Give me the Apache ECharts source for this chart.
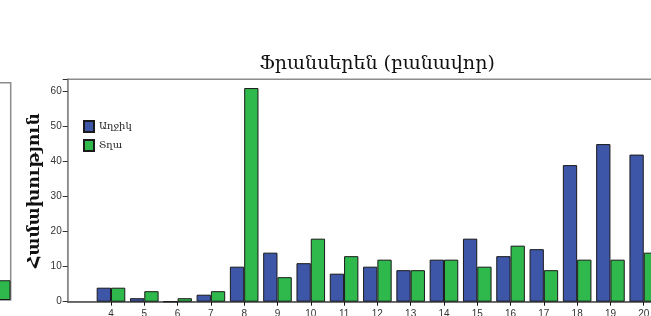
<!DOCTYPE html>
<html>
<head>
<meta charset="utf-8">
<script src="https://cdn.jsdelivr.net/npm/echarts@6/dist/echarts.min.js"></script>
<style>
  html, body { margin: 0; padding: 0; background: #fff; }
  #chart { width: 651px; height: 316px; }
</style>
</head>
<body>
<div id="chart"></div>
<script>
  var categories = [4, 5, 6, 7, 8, 9, 10, 11, 12, 13, 14, 15, 16, 17, 18, 19, 20];
  var girls = [4, 1, 0, 2, 10, 14, 11, 8, 10, 9, 12, 18, 13, 15, 39, 45, 42]; // Աղջիկ
  var boys = [4, 3, 1, 3, 61, 7, 18, 13, 12, 9, 12, 10, 16, 9, 12, 12, 14];   // Տղա
  var yTicks = [0, 10, 20, 30, 40, 50, 60];
  var leftValues = [6]; // neighbouring chart, only its last bar is visible

  var chart = echarts.init(document.getElementById('chart'));

  var girlsData = categories.map(function (c, i) { return [c, girls[i]]; });
  var boysData = categories.map(function (c, i) { return [c, boys[i]]; });

  var option = {
    backgroundColor: '#fff',
    animation: false,
    title: {
      text: 'Ֆրանսերեն (բանավոր)',
      left: 372,
      textAlign: 'center',
      top: 50,
      textStyle: { fontFamily: 'DejaVu Serif', fontWeight: 'normal', fontSize: 19, color: '#111' }
    },
    legend: {
      orient: 'vertical',
      left: 83,
      top: 120,
      padding: 0,
      icon: 'rect',
      itemWidth: 10,
      itemHeight: 11,
      itemGap: 6,
      textStyle: { fontFamily: 'DejaVu Serif', fontSize: 10, color: '#222' },
      data: ['Աղջիկ', 'Տղա']
    },
    grid: [
      {
        left: 67.7, top: 79.3, width: 620, height: 222.4,
        outerBoundsMode: 'none',
        show: true, borderColor: '#8c8c8c', borderWidth: 1.5, backgroundColor: '#fff'
      },
      {
        left: -200, top: 82.7, width: 210.7, height: 217.3,
        outerBoundsMode: 'none',
        show: true, borderColor: '#8c8c8c', borderWidth: 1.5
      }
    ],
    xAxis: [
      {
        type: 'value',
        gridIndex: 0,
        min: 2.7,
        max: 21.32,
        splitLine: { show: false },
        axisLine: { show: true, lineStyle: { color: '#555', width: 1.5 } },
        axisTick: { show: true, length: 4, customValues: categories, lineStyle: { color: '#111' } },
        axisLabel: {
          customValues: categories,
          margin: 8,
          fontFamily: 'Liberation Sans Narrow, Arial Narrow, Liberation Sans',
          fontSize: 10,
          color: '#333'
        }
      },
      {
        type: 'value',
        gridIndex: 1,
        min: 0,
        max: 1,
        show: false
      }
    ],
    yAxis: [
      {
        type: 'value',
        gridIndex: 0,
        min: 0,
        max: 63.5,
        interval: 10,
        name: 'Համախություն',
        nameLocation: 'middle',
        nameGap: 25,
        nameMoveOverlap: false,
        nameTextStyle: { fontFamily: 'DejaVu Serif', fontWeight: 'bold', fontSize: 17, color: '#111' },
        splitLine: { show: false },
        axisLine: { show: true, lineStyle: { color: '#8c8c8c', width: 1.5 } },
        axisTick: { show: true, length: 5, lineStyle: { color: '#333' } },
        axisLabel: {
          margin: 6,
          fontFamily: 'Liberation Sans Narrow, Arial Narrow, Liberation Sans',
          fontSize: 10,
          color: '#333',
          customValues: yTicks
        }
      },
      {
        type: 'value',
        gridIndex: 1,
        min: 0,
        max: 66,
        show: false
      }
    ],
    series: [
      {
        name: 'Աղջիկ',
        type: 'bar',
        xAxisIndex: 0,
        yAxisIndex: 0,
        barWidth: 14.3,
        barGap: 0,
        itemStyle: { color: '#3d56a8', borderColor: '#1a1a1a', borderWidth: 1 },
        data: girlsData
      },
      {
        name: 'Տղա',
        type: 'bar',
        xAxisIndex: 0,
        yAxisIndex: 0,
        barWidth: 14.3,
        barGap: 0,
        itemStyle: { color: '#2fb84b', borderColor: '#1a1a1a', borderWidth: 1 },
        data: boysData
      },
      {
        name: 'left',
        type: 'bar',
        xAxisIndex: 1,
        yAxisIndex: 1,
        barWidth: 14,
        itemStyle: { color: '#2fb84b', borderColor: '#1a1a1a', borderWidth: 1 },
        data: leftValues.map(function (v) { return [0.9658, v]; })
      }
    ]
  };

  option && chart.setOption(option);
</script>
</body>
</html>
